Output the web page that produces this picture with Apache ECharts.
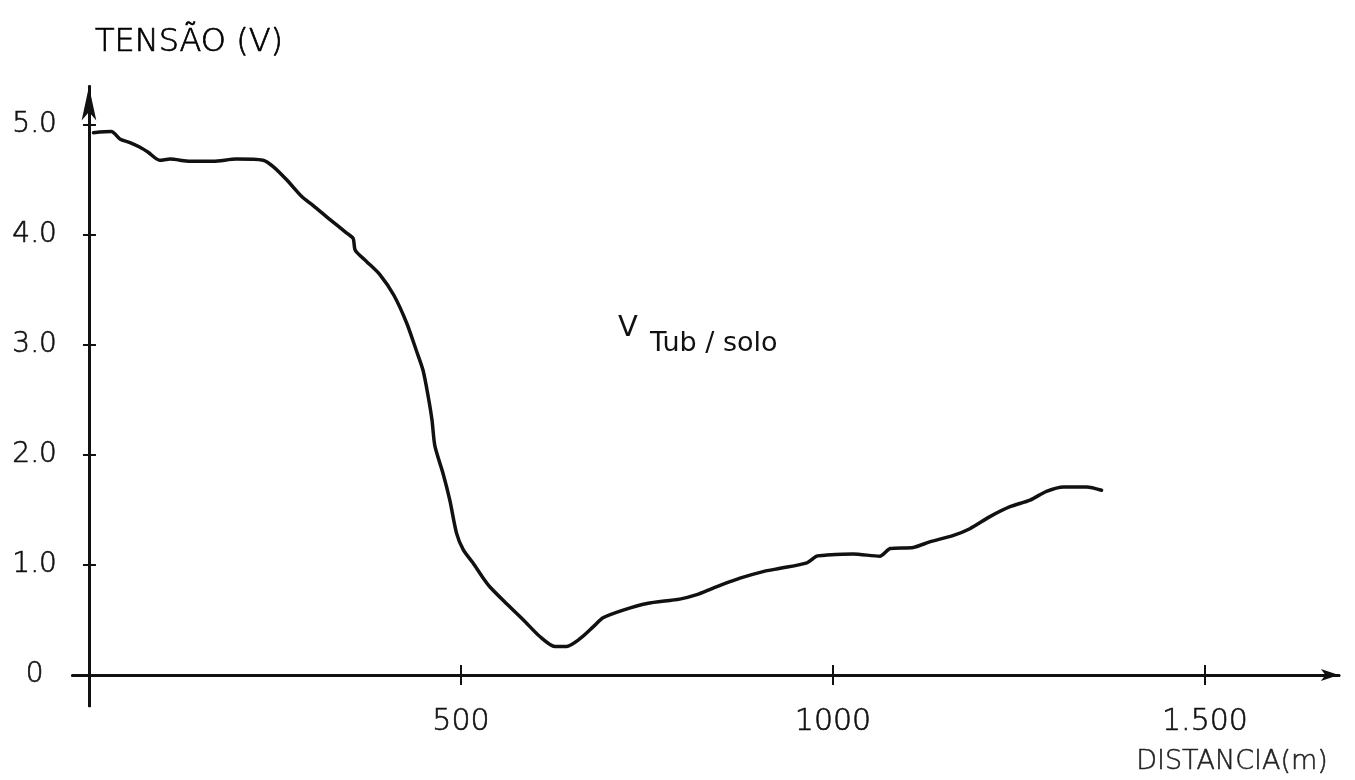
<!DOCTYPE html>
<html>
<head>
<meta charset="utf-8">
<script src="https://cdn.jsdelivr.net/npm/echarts@6/dist/echarts.min.js"></script>
<style>
html,body{margin:0;padding:0;background:#fff;}
#chart{width:1355px;height:780px;}
</style>
</head>
<body>
<div id="chart"></div>
<script>
// Distance (m) and voltage V Tub/solo (V)
var distance = [6, 30, 42, 55, 68, 80, 95, 109, 136, 167, 198, 234, 248, 266, 286, 301, 324, 346, 355, 358, 373, 391, 410, 427, 440, 449, 456, 461, 465, 476, 485, 494, 503, 516, 530, 539, 561, 584, 606, 626, 642, 660, 678, 691, 718, 750, 794, 817, 839, 875, 906, 929, 965, 978, 992, 1027, 1063, 1077, 1108, 1130, 1162, 1184, 1211, 1238, 1265, 1287, 1310, 1341, 1361];
var tension  = [4.93, 4.94, 4.87, 4.84, 4.80, 4.75, 4.68, 4.69, 4.67, 4.67, 4.69, 4.68, 4.62, 4.50, 4.35, 4.27, 4.14, 4.02, 3.97, 3.86, 3.76, 3.64, 3.45, 3.20, 2.95, 2.77, 2.53, 2.32, 2.08, 1.83, 1.59, 1.29, 1.14, 1.02, 0.88, 0.80, 0.65, 0.50, 0.35, 0.26, 0.26, 0.33, 0.44, 0.52, 0.59, 0.65, 0.69, 0.73, 0.79, 0.88, 0.94, 0.97, 1.02, 1.08, 1.09, 1.10, 1.08, 1.15, 1.16, 1.21, 1.27, 1.33, 1.44, 1.53, 1.59, 1.67, 1.71, 1.71, 1.68];

var xTicks = [500, 1000, 1500];
var xTickLabels = ['500', '1000', '1.500'];
var yTicks = [0, 1, 2, 3, 4, 5];
var yTickLabels = ['0', '1.0', '2.0', '3.0', '4.0', '5.0'];

var yLabel = 'TENSÃO (V)';
var xLabel = 'DISTANCIA(m)';
var curveMain = 'V';
var curveSub = 'Tub / solo';

var FONT = 'DejaVu Sans';
var INK = '#111';

var points = distance.map(function (d, i) { return [d, tension[i]]; });

var chart = echarts.init(document.getElementById('chart'), null, {renderer: 'canvas'});

var axisLineStyle = {color: INK, width: 3};

chart.setOption({
  backgroundColor: '#ffffff',
  animation: false,
  grid: {left: 72.6, top: 86.5, width: 1266.3, height: 619.3, containLabel: false, outerBoundsMode: 'none'},
  xAxis: [
    {
      type: 'value', min: -22, max: 1680, position: 'bottom',
      axisLine: {show: true, onZero: true, lineStyle: axisLineStyle, symbol: ['none', 'arrow'], symbolSize: [9, 18]},
      axisTick: {show: true, customValues: xTicks, length: 10, lineStyle: {color: INK, width: 2}},
      axisLabel: {
        show: true, customValues: xTicks, margin: 1,
        fontFamily: FONT, fontSize: 30, color: '#111', fontWeight: 200,
        textBorderColor: '#111', textBorderWidth: 0.6,
        formatter: function (v) { var i = xTicks.indexOf(v); return i >= 0 ? xTickLabels[i] : ''; }
      },
      splitLine: {show: false}
    },
    {
      type: 'value', min: -22, max: 1680, position: 'top',
      axisLine: {show: true, onZero: true, lineStyle: axisLineStyle},
      axisTick: {show: true, customValues: xTicks, length: 10, lineStyle: {color: INK, width: 2}},
      axisLabel: {show: false},
      splitLine: {show: false}
    }
  ],
  yAxis: [
    {
      type: 'value', min: -0.28, max: 5.35, position: 'left',
      axisLine: {show: true, onZero: true, lineStyle: axisLineStyle, symbol: ['none', 'arrow'], symbolSize: [11, 34]},
      axisTick: {show: true, customValues: [1, 2, 3, 4, 5], length: 6, lineStyle: {color: INK, width: 2}},
      axisLabel: {
        show: true, customValues: yTicks, margin: 38, align: 'center',
        fontFamily: FONT, fontSize: 28, color: '#111', fontWeight: 200,
        textBorderColor: '#111', textBorderWidth: 0.6,
        formatter: function (v) { var i = yTicks.indexOf(v); return i >= 0 ? yTickLabels[i] : ''; }
      },
      splitLine: {show: false}
    },
    {
      type: 'value', min: -0.28, max: 5.35, position: 'right',
      axisLine: {show: true, onZero: true, lineStyle: axisLineStyle},
      axisTick: {show: true, customValues: [1, 2, 3, 4, 5], length: 7, lineStyle: {color: INK, width: 2}},
      axisLabel: {show: false},
      splitLine: {show: false}
    }
  ],
  series: [{
    type: 'line',
    xAxisIndex: 0, yAxisIndex: 0,
    data: points,
    showSymbol: false,
    symbol: 'none',
    smooth: 0.25,
    lineStyle: {color: INK, width: 3.5, cap: 'round', join: 'round'},
    z: 5
  }],
  graphic: [
    {type: 'text', x: 189, y: 43, style: {text: yLabel, fontFamily: FONT, fontSize: 32, fontWeight: 200, fill: '#000', stroke: '#000', lineWidth: 0.7, align: 'center', verticalAlign: 'middle'}},
    {type: 'text', x: 1232, y: 762, style: {text: xLabel, fontFamily: FONT, fontSize: 27, fontWeight: 200, fill: '#222', stroke: '#222', lineWidth: 0.5, align: 'center', verticalAlign: 'middle'}},
    {type: 'text', x: 628, y: 328, style: {text: curveMain, fontFamily: FONT, fontSize: 29, fill: INK, align: 'center', verticalAlign: 'middle'}},
    {type: 'text', x: 650, y: 344, style: {text: curveSub, fontFamily: FONT, fontSize: 27, fill: INK, align: 'left', verticalAlign: 'middle'}}
  ]
});
</script>
</body>
</html>
